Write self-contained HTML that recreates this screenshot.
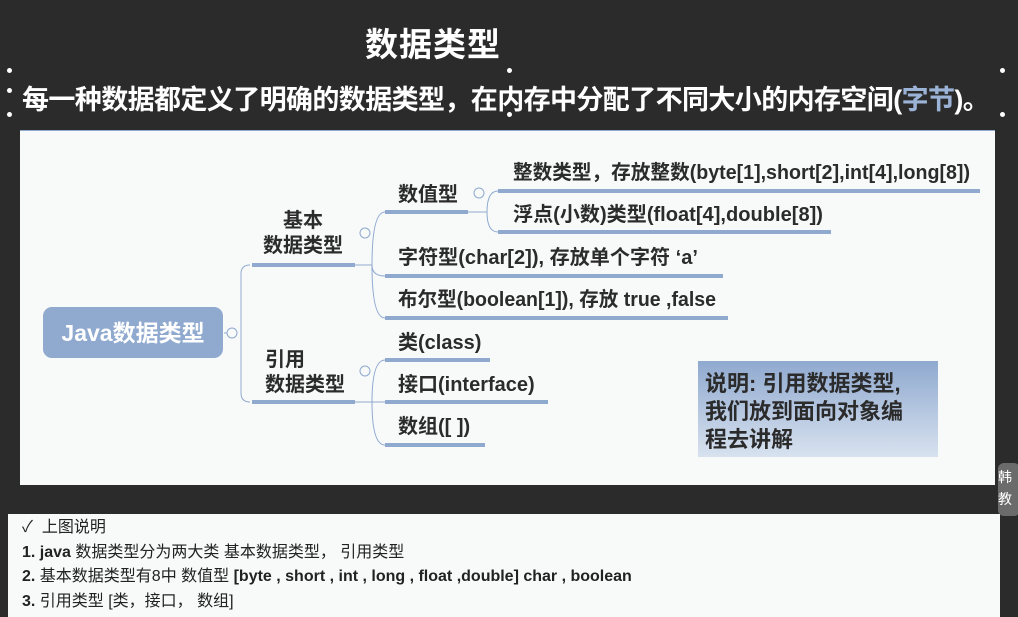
<!DOCTYPE html>
<html><head><meta charset="utf-8"><style>
html,body{margin:0;padding:0}
body{width:1018px;height:617px;background:#2b2b2b;position:relative;overflow:hidden;font-family:"Liberation Sans","Noto Sans CJK SC",sans-serif}
.abs{position:absolute}
</style></head><body>
<div class="abs" style="left:365px;top:18px;font-size:33px;font-weight:bold;color:#fff;letter-spacing:1px">数据类型</div>
<div class="abs" style="left:22px;top:78px;font-size:27px;font-weight:bold;color:#fff;white-space:nowrap;letter-spacing:-0.6px">每一种数据都定义了明确的数据类型，在内存中分配了不同大小的内存空间(<span style="color:#9bb3d6">字节</span>)。</div>
<div class="abs" style="left:7px;top:68px;width:5px;height:5px;border-radius:50%;background:#fff"></div>
<div class="abs" style="left:7px;top:88px;width:5px;height:5px;border-radius:50%;background:#fff"></div>
<div class="abs" style="left:7px;top:112px;width:5px;height:5px;border-radius:50%;background:#fff"></div>
<div class="abs" style="left:507px;top:68px;width:5px;height:5px;border-radius:50%;background:#fff"></div>
<div class="abs" style="left:507px;top:112px;width:5px;height:5px;border-radius:50%;background:#fff"></div>
<div class="abs" style="left:1000px;top:68px;width:5px;height:5px;border-radius:50%;background:#fff"></div>
<div class="abs" style="left:1000px;top:112px;width:5px;height:5px;border-radius:50%;background:#fff"></div>
<div class="abs" style="left:20px;top:130px;width:975px;height:354px;background:#f8fafa;border-top:1px solid #8fa9cf"></div>
<div class="abs" style="left:998px;top:463px;width:22px;height:50px;background:#6b6b6b;border-radius:6px;color:#fff;font-size:14px;line-height:22px;padding-top:3px">韩<br>教</div>
<svg class="abs" style="left:0;top:0" width="1018" height="617">
<g fill="none" stroke="#8fa9cf" stroke-width="1">
<path d="M224,333 H232 M250,265 Q241,265 241,274 V393 Q241,402 250,402"/>
<path d="M355,265 H372 M372,265 Q372,212 385,212 M372,265 Q372,276 385,276 M372,265 Q372,318 385,318"/>
<path d="M355,402 H372 M372,402 Q372,360 385,360 M372,402 H385 M372,402 Q372,445 385,445"/>
<path d="M468,212 H487 M487,212 Q487,191 498,191 M487,212 Q487,232 498,232"/>
</g>
<g stroke="#8fa9cf" stroke-width="4">
<line x1="252" y1="265" x2="355" y2="265"/><line x1="252" y1="402" x2="355" y2="402"/>
<line x1="385" y1="212" x2="468" y2="212"/><line x1="385" y1="276" x2="723" y2="276"/>
<line x1="385" y1="318" x2="728" y2="318"/><line x1="385" y1="360" x2="490" y2="360"/>
<line x1="385" y1="402" x2="548" y2="402"/><line x1="385" y1="445" x2="485" y2="445"/>
<line x1="498" y1="191" x2="980" y2="191"/><line x1="498" y1="232" x2="831" y2="232"/>
</g>
<g fill="#f8fafa" stroke="#8fa9cf"><circle cx="232" cy="333" r="5"/><circle cx="365" cy="233" r="5"/><circle cx="365" cy="371" r="5"/><circle cx="479" cy="193" r="5"/></g>
<rect x="43" y="307" width="180" height="51" rx="9" fill="#8fa9cf"/>
<text x="133" y="341" text-anchor="middle" fill="#fff" font-size="23" font-weight="bold" font-family="Liberation Sans,Noto Sans CJK SC,sans-serif">Java数据类型</text>
<g fill="#2b2b2b" font-size="20" font-weight="bold" font-family="Liberation Sans,Noto Sans CJK SC,sans-serif">
<text x="303" y="227" text-anchor="middle">基本</text><text x="303" y="252" text-anchor="middle">数据类型</text>
<text x="265" y="366">引用</text><text x="265" y="391">数据类型</text>
<text x="398" y="201">数值型</text>
<text x="513" y="179" textLength="457" lengthAdjust="spacingAndGlyphs">整数类型，存放整数(byte[1],short[2],int[4],long[8])</text>
<text x="513" y="221" textLength="310" lengthAdjust="spacingAndGlyphs">浮点(小数)类型(float[4],double[8])</text>
<text x="398" y="264" textLength="300" lengthAdjust="spacingAndGlyphs">字符型(char[2]), 存放单个字符 ‘a’</text>
<text x="398" y="306" textLength="318" lengthAdjust="spacingAndGlyphs">布尔型(boolean[1]), 存放 true ,false</text>
<text x="398" y="349">类(class)</text>
<text x="398" y="391">接口(interface)</text>
<text x="398" y="433">数组([ ])</text>
</g>
<defs><linearGradient id="g" x1="0" y1="0" x2="0" y2="1"><stop offset="0" stop-color="#8fa9cf"/><stop offset="1" stop-color="#d8e2ef"/></linearGradient></defs>
<rect x="698" y="361" width="240" height="96" fill="url(#g)"/>
<g fill="#2b2b2b" font-size="22" font-weight="bold" font-family="Liberation Sans,Noto Sans CJK SC,sans-serif">
<text x="705" y="391">说明: 引用数据类型,</text><text x="705" y="419">我们放到面向对象编</text><text x="705" y="447">程去讲解</text>
</g>
</svg>
<div class="abs" style="left:8px;top:514px;width:992px;height:103px;background:#f8fafa;color:#222;font-size:16px;line-height:24.5px;padding:2px 0 0 14px;box-sizing:border-box">
<div>✓&nbsp;&nbsp;上图说明</div>
<div><b>1.</b> <b>java</b> 数据类型分为两大类 基本数据类型， 引用类型</div>
<div><b>2.</b> 基本数据类型有8中 数值型 <b>[byte , short , int , long , float ,double] char , boolean</b></div>
<div><b>3.</b> 引用类型 [类，接口， 数组]</div>
</div>
</body></html>
